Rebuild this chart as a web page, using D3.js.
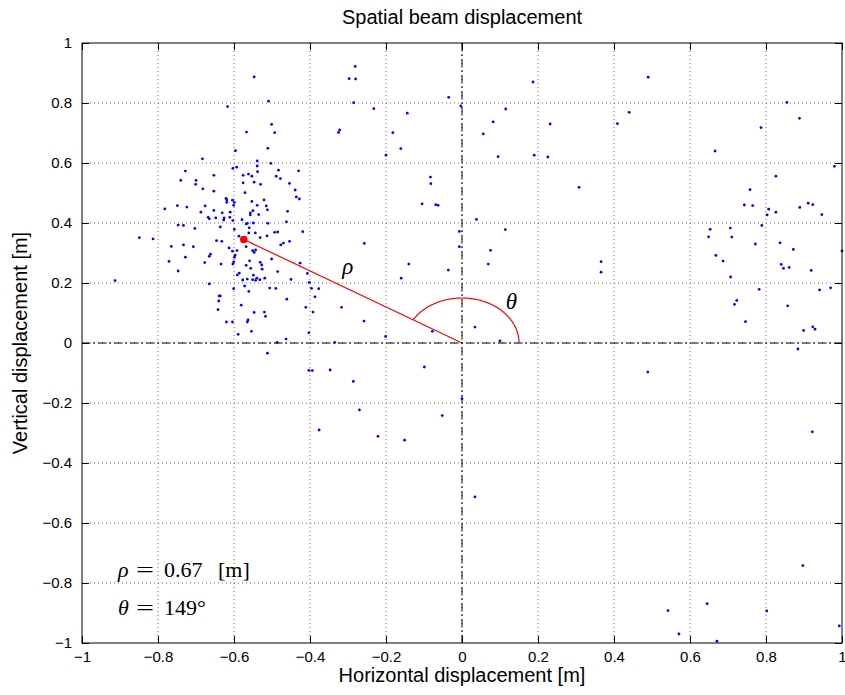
<!DOCTYPE html>
<html>
<head>
<meta charset="utf-8">
<script src="https://cdn.jsdelivr.net/npm/d3@7"></script>
<style>
  body { margin: 0; background: #fff; }
  text { font-family: "Liberation Sans", Arial, sans-serif; }
  .tex { font-family: "Liberation Serif", "DejaVu Serif", serif; }
</style>
</head>
<body>
<div id="chart"></div>
<script>
// Beam samples, [horizontal, vertical] in metres
const samples = [
  [-0.547,0.887],[-0.509,0.806],[-0.617,0.788],[-0.501,0.729],[-0.567,0.703],[-0.493,0.701],
  [-0.596,0.641],[-0.511,0.649],[-0.683,0.614],[-0.539,0.607],[-0.603,0.582],[-0.593,0.586],
  [-0.503,0.599],[-0.539,0.590],[-0.728,0.573],[-0.653,0.559],[-0.538,0.571],[-0.483,0.576],
  [-0.576,0.559],[-0.562,0.563],[-0.553,0.556],[-0.489,0.556],[-0.740,0.542],[-0.700,0.542],
  [-0.478,0.548],[-0.701,0.529],[-0.576,0.534],[-0.547,0.536],[-0.530,0.529],[-0.682,0.514],
  [-0.653,0.506],[-0.571,0.501],
  [-0.621,0.482],[-0.619,0.477],[-0.619,0.469],[-0.604,0.476],[-0.599,0.469],[-0.553,0.472],
  [-0.521,0.477],[-0.539,0.459],[-0.515,0.457],[-0.512,0.444],[-0.601,0.459],[-0.782,0.447],
  [-0.749,0.458],[-0.724,0.453],[-0.676,0.457],[-0.687,0.436],[-0.653,0.442],[-0.631,0.434],
  [-0.610,0.436],[-0.550,0.441],[-0.557,0.434],[-0.557,0.427],[-0.535,0.428],[-0.668,0.419],
  [-0.665,0.414],[-0.648,0.417],[-0.626,0.417],[-0.627,0.410],[-0.611,0.419],[-0.603,0.408],
  [-0.579,0.411],[-0.568,0.397],[-0.565,0.399],[-0.549,0.400],[-0.511,0.399],[-0.747,0.393],
  [-0.733,0.392],[-0.636,0.387],[-0.703,0.382],[-0.599,0.379],[-0.560,0.384],[-0.561,0.367],
  [-0.544,0.367],[-0.493,0.369],[-0.485,0.370],[-0.587,0.356],[-0.531,0.351],[-0.513,0.357],
  [-0.849,0.351],[-0.813,0.347],[-0.646,0.341],[-0.632,0.339],[-0.477,0.327],[-0.765,0.322],
  [-0.733,0.327],[-0.707,0.321],[-0.568,0.321],[-0.613,0.317],[-0.592,0.308],[-0.604,0.306],
  [-0.551,0.308],[-0.543,0.310],[-0.547,0.302],[-0.662,0.296],[-0.665,0.289],[-0.597,0.293],
  [-0.599,0.286],[-0.728,0.286],[-0.771,0.272],[-0.677,0.268],[-0.634,0.263],[-0.601,0.270],
  [-0.603,0.263],[-0.559,0.274],[-0.531,0.269],[-0.527,0.260],[-0.568,0.259],[-0.501,0.280],
  [-0.556,0.249],[-0.526,0.246],[-0.485,0.238],[-0.747,0.240],[-0.586,0.233],[-0.591,0.227],
  [-0.549,0.226],[-0.565,0.213],[-0.577,0.210],[-0.551,0.211],[-0.543,0.209],[-0.540,0.216],
  [-0.532,0.211],[-0.519,0.216],[-0.913,0.208],[-0.665,0.197],[-0.572,0.190],[-0.601,0.181],
  [-0.561,0.172],[-0.506,0.183],[-0.490,0.182],[-0.639,0.157],[-0.636,0.157],[-0.640,0.140],
  [-0.581,0.126],[-0.642,0.111],[-0.547,0.102],[-0.520,0.103],[-0.517,0.089],[-0.563,0.077],
  [-0.565,0.070],[-0.620,0.070],[-0.604,0.070],[-0.554,0.039],[-0.589,0.029],[-0.487,0.002],
  [-0.281,0.922],[-0.297,0.881],[-0.280,0.880],[-0.285,0.801],[-0.232,0.781],[-0.035,0.819],
  [-0.144,0.766],[-0.322,0.710],[-0.325,0.702],[-0.182,0.701],[-0.161,0.648],[-0.200,0.626],
  [-0.430,0.574],[-0.454,0.532],[-0.439,0.510],[-0.083,0.553],[-0.082,0.531],
  [-0.436,0.487],[-0.428,0.480],[-0.459,0.439],[-0.105,0.464],[-0.069,0.461],[-0.063,0.459],
  [-0.462,0.404],[-0.419,0.371],[-0.454,0.339],[-0.470,0.333],[-0.257,0.332],[-0.007,0.372],
  [-0.007,0.321],[-0.426,0.266],[-0.140,0.263],[-0.036,0.243],[-0.450,0.212],[-0.407,0.232],
  [-0.402,0.202],[-0.160,0.216],[-0.396,0.182],[-0.377,0.181],[-0.387,0.154],[-0.461,0.146],
  [-0.317,0.119],[-0.411,0.119],[-0.392,0.103],[-0.258,0.073],[-0.078,0.039],[-0.403,0.034],
  [-0.201,0.022],[-0.463,0.013],[-0.335,0.002],
  [0.187,0.870],[0.490,0.886],[-0.003,0.790],[0.115,0.780],[0.082,0.737],[0.440,0.769],
  [0.409,0.731],[0.232,0.730],[0.056,0.697],[0.095,0.621],[0.190,0.626],[0.226,0.620],
  [0.308,0.519],[0.038,0.412],[0.114,0.378],[0.075,0.309],[0.069,0.263],[0.366,0.271],
  [0.366,0.236],[0.034,0.053],[0.100,0.007],
  [0.855,0.802],[0.888,0.749],[0.787,0.718],[0.666,0.640],[0.980,0.589],[0.826,0.556],
  [0.758,0.511],[0.743,0.460],[0.765,0.458],[0.807,0.446],[0.803,0.427],[0.826,0.436],
  [0.889,0.452],[0.911,0.466],[0.923,0.461],[0.947,0.428],[0.789,0.392],[0.653,0.379],
  [0.706,0.383],[0.649,0.354],[0.710,0.353],[0.772,0.330],[0.837,0.334],[0.872,0.312],
  [1.000,0.307],[0.668,0.292],[0.687,0.273],[0.840,0.262],[0.846,0.249],[0.861,0.252],
  [0.919,0.242],[0.707,0.220],[0.970,0.184],[0.941,0.177],[0.782,0.179],[0.723,0.142],
  [0.717,0.129],[0.857,0.124],[0.746,0.071],[0.923,0.054],[0.899,0.042],[0.929,0.046],
  [0.884,-0.020],
  [-0.512,-0.034],[-0.403,-0.091],[-0.394,-0.092],[-0.347,-0.090],[-0.099,-0.080],[-0.286,-0.128],
  [-0.270,-0.223],[-0.052,-0.242],[-0.376,-0.290],[-0.221,-0.311],[-0.151,-0.324],[0.000,-0.186],
  [0.489,-0.097],[0.922,-0.296],[0.034,-0.513],[0.897,-0.742],[0.542,-0.892],[0.645,-0.869],
  [0.571,-0.970],[0.671,-0.994],[0.802,-0.893],[0.993,-0.943]
];

// Mean displacement (polar)
const rho = 0.67;
const thetaDeg = 149;
const arcRadius = 0.15;

const xTicks = [-1, -0.8, -0.6, -0.4, -0.2, 0, 0.2, 0.4, 0.6, 0.8, 1];
const yTicks = [-1, -0.8, -0.6, -0.4, -0.2, 0, 0.2, 0.4, 0.6, 0.8, 1];

const width = 845, height = 695;
const margin = { top: 43, right: 3, bottom: 52, left: 82 };
const innerW = width - margin.left - margin.right;
const innerH = height - margin.top - margin.bottom;

const svg = d3.select('#chart').append('svg')
  .attr('width', width)
  .attr('height', height);

const x = d3.scaleLinear().domain([-1, 1]).range([0, innerW]);
const y = d3.scaleLinear().domain([-1, 1]).range([innerH, 0]);

const g = svg.append('g').attr('transform', `translate(${margin.left},${margin.top})`);

// dotted grid
g.selectAll('.vgrid').data(xTicks.slice(1, -1)).enter().append('line')
  .attr('x1', d => x(d)).attr('x2', d => x(d))
  .attr('y1', 0).attr('y2', innerH)
  .attr('stroke', '#666').attr('stroke-width', 1).attr('stroke-dasharray', '1,3');
g.selectAll('.hgrid').data(yTicks.slice(1, -1)).enter().append('line')
  .attr('y1', d => y(d)).attr('y2', d => y(d))
  .attr('x1', 0).attr('x2', innerW)
  .attr('stroke', '#666').attr('stroke-width', 1).attr('stroke-dasharray', '1,3');

// dash-dot zero axes
g.append('line')
  .attr('x1', x(0)).attr('x2', x(0)).attr('y1', 0).attr('y2', innerH)
  .attr('stroke', '#000').attr('stroke-dasharray', '8,3,2,3');
g.append('line')
  .attr('x1', 0).attr('x2', innerW).attr('y1', y(0)).attr('y2', y(0))
  .attr('stroke', '#000').attr('stroke-dasharray', '8,3,2,3');

// samples
g.selectAll('.pt').data(samples).enter().append('circle')
  .attr('cx', d => x(d[0]))
  .attr('cy', d => y(d[1]))
  .attr('r', 1.4)
  .attr('fill', '#0000ff');

// rho line, theta arc, mean point
const th = thetaDeg * Math.PI / 180;
const mx = rho * Math.cos(th), my = rho * Math.sin(th);
g.append('line')
  .attr('x1', x(0)).attr('y1', y(0))
  .attr('x2', x(mx)).attr('y2', y(my))
  .attr('stroke', '#ff0000').attr('stroke-width', 1.2);

const arcPts = d3.range(0, thetaDeg + 1, 1).map(a => [
  arcRadius * Math.cos(a * Math.PI / 180),
  arcRadius * Math.sin(a * Math.PI / 180)
]);
g.append('path')
  .attr('d', d3.line().x(d => x(d[0])).y(d => y(d[1]))(arcPts))
  .attr('fill', 'none').attr('stroke', '#ff0000').attr('stroke-width', 1.2);

g.append('circle')
  .attr('cx', x(mx)).attr('cy', y(my)).attr('r', 3.8)
  .attr('fill', '#ff0000');

g.append('text').attr('class', 'tex')
  .attr('x', x(-0.315)).attr('y', y(0.23))
  .attr('font-size', 23).attr('font-style', 'italic')
  .text('ρ');
g.append('text').attr('class', 'tex')
  .attr('x', x(0.115)).attr('y', y(0.115))
  .attr('font-size', 23).attr('font-style', 'italic')
  .text('θ');

// frame
g.append('rect')
  .attr('width', innerW).attr('height', innerH)
  .attr('fill', 'none').attr('stroke', '#000').attr('stroke-width', 1);

// axes, ticks inward on all four sides
const fmt = d => String(d).replace('-', '\u2212');
g.append('g').attr('transform', `translate(0,${innerH})`)
  .call(d3.axisBottom(x).tickValues(xTicks).tickSize(-7).tickPadding(8).tickFormat(fmt))
  .call(a => a.select('.domain').remove());
g.append('g')
  .call(d3.axisTop(x).tickValues(xTicks).tickSize(-7).tickFormat(''))
  .call(a => a.select('.domain').remove());
g.append('g')
  .call(d3.axisLeft(y).tickValues(yTicks).tickSize(-7).tickPadding(10).tickFormat(fmt))
  .call(a => a.select('.domain').remove());
g.append('g').attr('transform', `translate(${innerW},0)`)
  .call(d3.axisRight(y).tickValues(yTicks).tickSize(-7).tickFormat(''))
  .call(a => a.select('.domain').remove());

g.selectAll('.tick text')
  .attr('font-family', '"Liberation Sans", Arial, sans-serif')
  .attr('font-size', 15).attr('fill', '#000');
g.selectAll('.tick line').attr('stroke', '#000');

// titles
svg.append('text')
  .attr('x', margin.left + innerW / 2).attr('y', 24)
  .attr('text-anchor', 'middle').attr('font-size', 20)
  .text('Spatial beam displacement');
svg.append('text')
  .attr('x', margin.left + innerW / 2).attr('y', 682)
  .attr('text-anchor', 'middle').attr('font-size', 20)
  .text('Horizontal displacement [m]');
svg.append('text')
  .attr('transform', `translate(27,${margin.top + innerH / 2}) rotate(-90)`)
  .attr('text-anchor', 'middle').attr('font-size', 20)
  .text('Vertical displacement [m]');

// readout in bottom-left corner, laid out like the LaTeX original
function readout(sym, val, unit, baseY) {
  const t = g.append('text').attr('class', 'tex').attr('font-size', 22);
  t.append('tspan').attr('x', 36).attr('y', baseY).attr('font-style', 'italic').text(sym);
  t.append('tspan').attr('x', 54).attr('y', baseY)
    .attr('textLength', 18).attr('lengthAdjust', 'spacingAndGlyphs').text('=');
  t.append('tspan').attr('x', 82).attr('y', baseY).text(val);
  if (unit) t.append('tspan').attr('x', 136).attr('y', baseY).text(unit);
}
readout('ρ', rho.toFixed(2), '[m]', y(-0.78));
readout('θ', thetaDeg + '°', null, y(-0.907));
</script>
</body>
</html>
